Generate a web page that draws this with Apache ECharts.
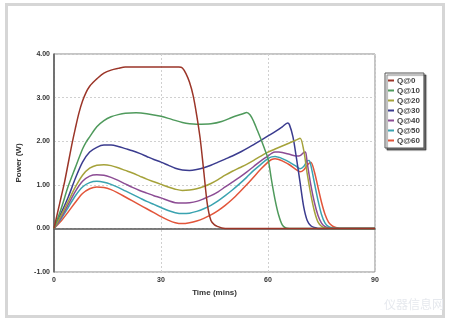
<!DOCTYPE html>
<html>
<head>
<meta charset="utf-8">
<script src="https://cdn.jsdelivr.net/npm/echarts@6/dist/echarts.min.js"></script>
<style>
html,body{margin:0;padding:0;background:#fff;}
#chart{width:450px;height:322px;}
</style>
</head>
<body>
<div id="chart"></div>
<script>
// ---- data ----
var seriesNames = ['Q@0','Q@10','Q@20','Q@30','Q@40','Q@50','Q@60'];
var xTicks = [0, 30, 60, 90];
var yTicks = [-1, 0, 1, 2, 3, 4];

var q0_t = [0,1,2,3,4,5,6,7,8,9,10,11,12,14,16,18,20,35,36,37,38,39,40,41,42,43,44,45,46,47,48,90];
var q0_v = [0,0.36,0.72,1.08,1.5,1.92,2.3,2.65,2.92,3.12,3.26,3.35,3.43,3.56,3.63,3.67,3.7,3.7,3.68,3.55,3.35,3.05,2.6,2.05,1.3,0.55,0.18,0.08,0.04,0.01,0,0];

var q10_t = [0,2,4,6,8,9,10,12,14,16,18,20,23,26,30,33,36,38,40,44,47,50,53,54,55,56,57,58,59,60,61,62,63,64,65,66,90];
var q10_v = [0,0.45,0.97,1.4,1.82,1.98,2.1,2.33,2.47,2.56,2.61,2.64,2.65,2.63,2.57,2.5,2.43,2.4,2.39,2.4,2.45,2.55,2.63,2.66,2.6,2.45,2.25,2.05,1.83,1.6,1.1,0.65,0.3,0.08,0.01,0,0];

var q20_t = [0,2,4,6,8,10,12,14,16,18,20,22,24,26,28,30,32,34,36,38,40,42,44,46,48,50,52,54,56,58,60,62,64,66,68,69,70,71,72,73,74,75,76,77,90];
var q20_v = [0,0.3,0.62,0.95,1.22,1.38,1.45,1.46,1.44,1.39,1.33,1.27,1.2,1.13,1.07,1.01,0.95,0.9,0.87,0.88,0.91,0.96,1.03,1.12,1.22,1.31,1.39,1.47,1.56,1.66,1.75,1.82,1.89,1.96,2.03,2.07,1.8,1.25,0.78,0.4,0.15,0.05,0.01,0,0];

var q30_t = [0,2,4,6,8,10,12,14,16,18,20,22,24,26,28,30,32,34,36,38,40,42,44,46,48,50,52,54,56,58,60,62,64,65.5,66,67,68,69,70,71,72,73,74,90];
var q30_v = [0,0.35,0.72,1.15,1.52,1.75,1.86,1.91,1.91,1.88,1.83,1.78,1.72,1.65,1.58,1.52,1.45,1.38,1.34,1.33,1.35,1.39,1.45,1.52,1.59,1.66,1.74,1.83,1.92,2.02,2.12,2.22,2.33,2.42,2.38,2.1,1.6,1.05,0.5,0.18,0.06,0.02,0,0];

var q40_t = [0,2,4,6,8,10,12,14,16,18,20,22,24,26,28,30,32,34,36,38,40,42,44,46,48,50,52,54,56,58,60,61,62,63,64,66,68,69,70,70.5,71,72,73,74,75,76,77,78,90];
var q40_v = [0,0.25,0.55,0.85,1.08,1.2,1.23,1.22,1.17,1.1,1.02,0.94,0.87,0.81,0.75,0.7,0.64,0.59,0.58,0.59,0.62,0.68,0.75,0.84,0.95,1.06,1.17,1.29,1.42,1.55,1.66,1.72,1.75,1.75,1.74,1.7,1.66,1.67,1.74,1.75,1.5,1.0,0.6,0.3,0.12,0.04,0.01,0,0];

var q50_t = [0,2,4,6,8,10,12,14,16,18,20,22,24,26,28,30,32,34,36,38,40,42,44,46,48,50,52,54,56,58,60,61,62,63,64,66,68,69,70,71,71.5,72,73,74,75,76,77,78,79,90];
var q50_v = [0,0.22,0.48,0.75,0.95,1.05,1.08,1.06,1.01,0.94,0.86,0.78,0.7,0.62,0.55,0.48,0.41,0.36,0.34,0.35,0.39,0.45,0.53,0.63,0.75,0.88,1.02,1.17,1.33,1.47,1.6,1.64,1.65,1.63,1.6,1.52,1.42,1.37,1.42,1.55,1.56,1.45,1.05,0.65,0.32,0.12,0.04,0.01,0,0];

var q60_t = [0,2,4,6,8,10,12,14,16,18,20,22,24,26,28,30,32,34,36,38,40,42,44,46,48,50,52,54,56,58,60,61,62,63,64,66,68,69,70,71,72,73,74,75,76,77,78,79,80,90];
var q60_v = [0,0.17,0.38,0.6,0.8,0.91,0.95,0.94,0.89,0.81,0.72,0.63,0.54,0.45,0.36,0.27,0.19,0.13,0.11,0.13,0.17,0.23,0.31,0.41,0.53,0.67,0.83,1.0,1.18,1.36,1.52,1.58,1.6,1.58,1.55,1.46,1.34,1.3,1.34,1.45,1.52,1.3,0.95,0.6,0.32,0.14,0.06,0.02,0,0];

var seriesT = [q0_t, q10_t, q20_t, q30_t, q40_t, q50_t, q60_t];
var seriesV = [q0_v, q10_v, q20_v, q30_v, q40_v, q50_v, q60_v];
var colors = ['#9b3528','#4f9a5c','#a5a23a','#3b3c8f','#8c4c94','#3aa3b0','#e2553a'];

// ---- chart ----
var chart = echarts.init(document.getElementById('chart'), null, {renderer:'canvas'});
var series = seriesNames.map(function(name, i){
  return {
    name: name,
    type: 'line',
    data: seriesT[i].map(function(t, j){ return [t, seriesV[i][j]]; }),
    showSymbol: false,
    symbol: 'none',
    smooth: 0.3,
    lineStyle: {width: 1.5, color: colors[i]},
    itemStyle: {color: colors[i]},
    animation: false,
    z: 10 - i
  };
});

chart.setOption({
  animation: false,
  backgroundColor: '#fff',
  grid: {left: 54, right: 75, top: 54, bottom: 50, show: true, borderColor: '#8a8a8a', borderWidth: 1},
  legend: {
    data: seriesNames,
    orient: 'vertical',
    left: 385, top: 73,
    icon: 'rect',
    itemWidth: 6, itemHeight: 2,
    itemGap: 1,
    padding: [3, 4, 3, 3],
    backgroundColor: '#fff',
    borderColor: '#555',
    borderWidth: 1,
    shadowColor: 'rgba(0,0,0,0.55)',
    shadowBlur: 1,
    shadowOffsetX: 2,
    shadowOffsetY: 2,
    textStyle: {fontSize: 8, fontWeight: 'bold', color: '#444', fontFamily: 'Liberation Sans', lineHeight: 9, padding: [0,0,0,-2]}
  },
  xAxis: {
    type: 'value', min: xTicks[0], max: xTicks[xTicks.length-1], interval: 30,
    name: 'Time (mins)', nameLocation: 'middle', nameGap: 14,
    nameTextStyle: {fontSize: 8, fontWeight: 'bold', color: '#333', fontFamily: 'Liberation Sans'},
    axisLine: {show: true, lineStyle: {color: '#555', width: 1.5}},
    axisTick: {show: false},
    axisLabel: {fontSize: 7, fontWeight: 'bold', color: '#333', fontFamily: 'Liberation Sans', margin: 5,
      formatter: function(v){ return xTicks.indexOf(v) >= 0 ? String(v) : ''; }},
    splitLine: {show: true, lineStyle: {color: '#d0d0d0', type: [2,2], width: 1}}
  },
  yAxis: {
    type: 'value', min: yTicks[0], max: yTicks[yTicks.length-1], interval: 1,
    name: 'Power (W)', nameLocation: 'middle', nameGap: 26, nameRotate: 90,
    nameTextStyle: {fontSize: 8, fontWeight: 'bold', color: '#333', fontFamily: 'Liberation Sans'},
    axisLine: {show: true, onZero: false, lineStyle: {color: '#555', width: 1.5}},
    axisTick: {show: false},
    axisLabel: {fontSize: 7, fontWeight: 'bold', color: '#333', fontFamily: 'Liberation Sans', margin: 4,
      formatter: function(v){ return v.toFixed(2); }},
    splitLine: {show: true, lineStyle: {color: '#d0d0d0', type: [2,2], width: 1}}
  },
  graphic: [
    {type: 'rect', shape: {x: 6.5, y: 4.5, width: 437, height: 312}, style: {fill: 'none', stroke: '#d6d6d6', lineWidth: 3}, silent: true},
    {type: 'text', left: 384, top: 298, style: {text: '仪器信息网', fontSize: 12, fontFamily: 'Noto Sans CJK SC', fill: '#e6e9ee'}, silent: true}
  ],
  series: series
});
</script>
</body>
</html>
